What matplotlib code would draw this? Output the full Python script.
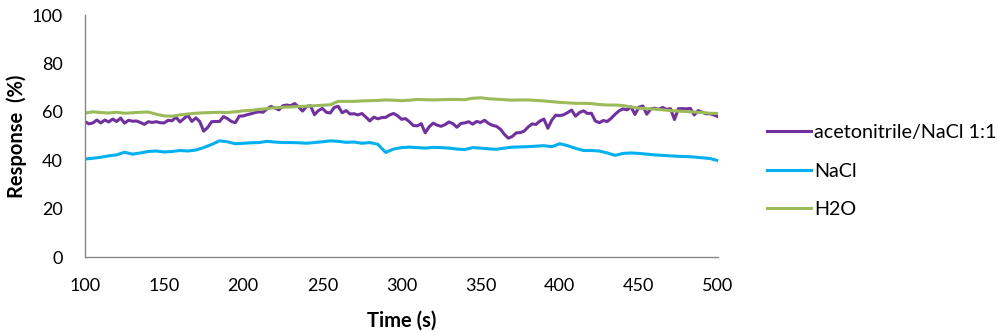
import numpy as np
import matplotlib
matplotlib.use("Agg")
import matplotlib.pyplot as plt

plt.rcParams['font.family'] = ['Lato', 'DejaVu Sans']

# time grids (s)
time_acn = np.arange(100, 500.01, 2.5)
time_5s = np.arange(100, 500.01, 5)

acetonitrile_nacl = [
    55.9, 55.0, 55.4, 56.6, 55.4, 56.6, 55.8, 57.0, 56.0, 57.4,
    55.3, 56.5, 56.1, 56.2, 55.6, 54.8, 55.9, 55.6, 55.9, 55.5,
    55.4, 56.5, 56.3, 57.8, 55.8, 57.2, 58.6, 56.0, 57.5, 56.0,
    52.0, 53.5, 55.9, 56.0, 56.0, 58.0, 57.2, 56.0, 55.5, 58.2,
    58.3,
    58.8, 59.2, 59.7, 60.0, 59.8, 61.2, 62.2, 61.6, 60.8, 62.5,
    62.8, 62.5, 63.4, 62.0, 60.3, 62.2, 62.5, 58.8, 60.5, 61.4,
    59.8, 59.5, 61.8, 62.3, 59.6, 60.5, 59.1, 59.2, 58.7, 59.3,
    57.8, 56.2, 57.8, 57.1, 57.6, 57.7, 58.7, 59.3, 58.4, 56.9,
    57.2, 55.9, 54.3, 54.2, 55.1, 51.3, 53.8, 55.3, 54.5, 54.0,
    54.7, 55.8, 55.1, 53.6, 55.2, 55.4, 55.9, 54.9, 56.0, 55.6,
    56.5, 55.2, 54.4, 54.0, 52.8, 50.7, 49.1, 49.8, 51.3, 51.4,
    52.0, 53.7, 55.0, 54.8, 56.2, 57.0, 53.2, 56.6, 58.6, 58.4,
    58.8, 59.7, 60.7, 58.2, 59.7, 60.4, 59.3, 59.4, 56.2, 55.5,
    56.4, 56.0, 57.3, 59.0, 60.4, 61.2, 60.8, 62.1, 58.9, 61.9,
    62.4, 59.0, 61.2, 61.5, 61.0, 61.8, 61.0, 61.3, 56.8, 61.3,
    61.3, 61.2, 61.4, 58.7, 60.5, 59.8, 59.2, 59.2, 58.7, 58.0,
]

nacl = [
    40.5, 40.8, 41.2, 41.8, 42.2, 43.3, 42.5, 43.0, 43.6, 43.8,
    43.4, 43.6, 44.0, 43.8, 44.2, 45.2, 46.5, 48.0, 47.6, 46.8,
    47.0, 47.2, 47.3, 47.8, 47.5, 47.3, 47.3, 47.2, 47.0, 47.3,
    47.6, 48.0, 47.8, 47.4, 47.5, 47.0, 47.3, 46.6, 43.2, 44.6,
    45.2, 45.4, 45.2, 45.0, 45.3, 45.2, 45.0, 44.6, 44.4, 45.2,
    45.0, 44.7, 44.5, 45.0, 45.4, 45.5, 45.6, 45.8, 46.0, 45.6,
    46.8, 46.0, 44.9, 44.0, 44.0, 43.8, 43.0, 42.0, 42.8, 43.0,
    42.8, 42.5, 42.2, 42.0, 41.8, 41.6, 41.5, 41.3, 41.0, 40.7,
    39.8,
]

h2o = [
    59.5, 60.0, 59.7, 59.5, 59.8, 59.4, 59.6, 59.8, 59.9, 59.0,
    58.3, 58.2, 58.7, 59.1, 59.4, 59.6, 59.7, 59.8, 59.7, 60.0,
    60.4, 60.6, 61.0, 61.3, 61.7, 61.9, 62.0, 62.2, 62.3, 62.5,
    62.7, 62.9, 64.3, 64.3, 64.3, 64.5, 64.6, 64.7, 64.9, 64.8,
    64.6, 64.8, 65.1, 65.0, 64.9, 65.0, 65.1, 65.1, 65.0, 65.6,
    65.8, 65.4, 65.2, 65.0, 64.8, 64.9, 64.9, 64.7, 64.5, 64.2,
    63.9, 63.7, 63.5, 63.5, 63.4, 63.0, 62.8, 62.8, 62.6, 62.0,
    61.5, 61.3, 61.1, 60.8, 60.5, 60.3, 60.1, 59.9, 59.7, 59.4,
    59.3,
]

labels = ['acetonitrile/NaCl 1:1', 'NaCl', 'H2O']
colors = ['#7030A0', '#00B0F0', '#9BBB59']

x_ticks = [100, 150, 200, 250, 300, 350, 400, 450, 500]
y_ticks = [0, 20, 40, 60, 80, 100]

fig = plt.figure(figsize=(10, 3.32), dpi=100)
ax = fig.add_axes([0.085, 1 - 257 / 332, 0.633, (257 - 15) / 332])

ax.plot(time_acn, acetonitrile_nacl, color=colors[0], lw=2.2, label=labels[0])
ax.plot(time_5s, nacl, color=colors[1], lw=2.2, label=labels[1])
ax.plot(time_5s, h2o, color=colors[2], lw=2.2, label=labels[2])

ax.set_xlim(100, 500)
ax.set_ylim(0, 100)
ax.set_xticks(x_ticks)
ax.set_yticks(y_ticks)
ax.tick_params(axis='both', length=0, labelsize=13, colors='black')
ax.tick_params(axis='x', pad=15)
ax.tick_params(axis='y', pad=16)
for s in ['top', 'right']:
    ax.spines[s].set_visible(False)
for s in ['left', 'bottom']:
    ax.spines[s].set_color('#868686')
    ax.spines[s].set_linewidth(1.0)

ax.set_xlabel('Time (s)', fontsize=14.5, fontweight='bold', labelpad=12)
ax.set_ylabel('Response  (%)', fontsize=14.5, fontweight='bold', labelpad=3)

fig.legend(loc='upper left', bbox_to_anchor=(0.767, 1 - 124 / 332),
           frameon=False, fontsize=14.2, handlelength=2.25, handletextpad=0.15,
           labelspacing=1.1, borderpad=0, borderaxespad=0)

fig.savefig('out.png', dpi=100)
